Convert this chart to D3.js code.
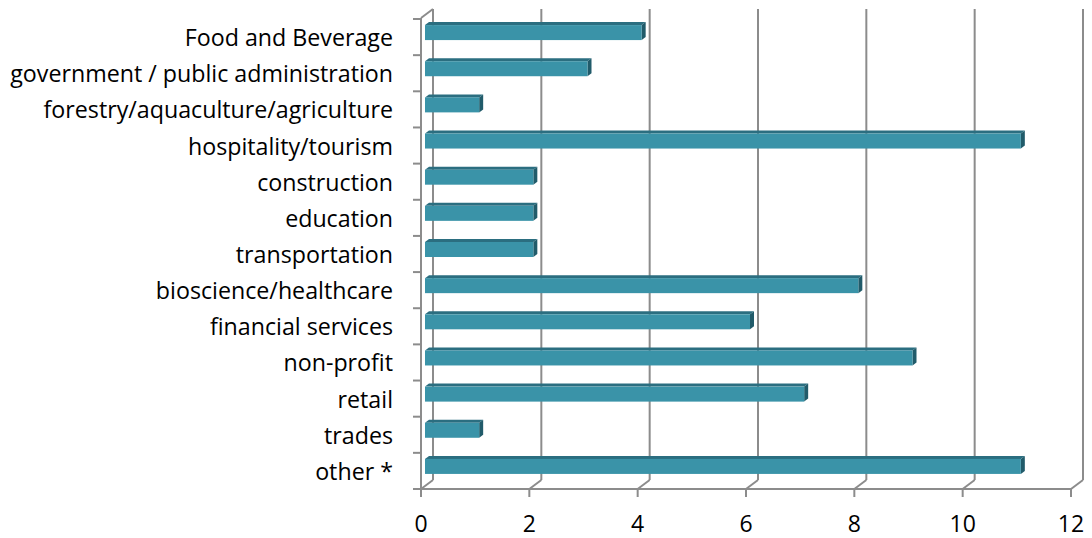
<!DOCTYPE html>
<html>
<head>
<meta charset="utf-8">
<script src="https://cdn.jsdelivr.net/npm/d3@7"></script>
<style>
  html, body { margin: 0; padding: 0; background: #fff; }
  svg { display: block; }
  text { font-family: "Open Sans", Lato, sans-serif; fill: #000; font-variant-ligatures: none; }
</style>
</head>
<body>
<svg id="chart" width="1092" height="538"></svg>
<script>
// Industries, listed top to bottom
const categories = [
  "Food and Beverage",
  "government / public administration",
  "forestry/aquaculture/agriculture",
  "hospitality/tourism",
  "construction",
  "education",
  "transportation",
  "bioscience/healthcare",
  "financial services",
  "non-profit",
  "retail",
  "trades",
  "other *"
];
const counts = [4, 3, 1, 11, 2, 2, 2, 8, 6, 9, 7, 1, 11];
const xTicks = [0, 2, 4, 6, 8, 10, 12];

const svg = d3.select("#chart");

// Plot frame (front plane) and 3D wall depth
const plotLeft = 421, plotRight = 1071, plotTop = 18, plotBottom = 489;
const depth = { dx: 12, dy: -9 };      // back wall offset
const barDepth = { dx: 4, dy: -3 };    // bar thickness in depth
const barShift = 4;                    // bars sit a little behind the front plane

const x = d3.scaleLinear().domain([0, 12]).range([plotLeft, plotRight]);
const y = d3.scaleBand().domain(categories).range([plotTop + 1, plotBottom]).paddingInner(0).paddingOuter(0);

const gridColor = "#8c8c8c";

// Back wall gridlines
const grid = svg.append("g");
grid.selectAll("line.back")
  .data(xTicks)
  .join("line")
  .attr("x1", d => x(d) + depth.dx).attr("x2", d => x(d) + depth.dx)
  .attr("y1", plotTop + depth.dy).attr("y2", plotBottom + depth.dy)
  .attr("stroke", gridColor).attr("stroke-width", 2);

// Floor: diagonals from the front axis to the back wall
grid.selectAll("line.floor")
  .data(xTicks)
  .join("line")
  .attr("x1", d => x(d)).attr("x2", d => x(d) + depth.dx)
  .attr("y1", plotBottom).attr("y2", plotBottom + depth.dy)
  .attr("stroke", gridColor).attr("stroke-width", 2);

// Side wall top edge
grid.append("line")
  .attr("x1", plotLeft).attr("y1", plotTop)
  .attr("x2", plotLeft + depth.dx).attr("y2", plotTop + depth.dy)
  .attr("stroke", gridColor).attr("stroke-width", 2);

// Front value axis line and ticks
grid.append("line")
  .attr("x1", plotLeft).attr("x2", plotRight)
  .attr("y1", plotBottom).attr("y2", plotBottom)
  .attr("stroke", gridColor).attr("stroke-width", 2);
grid.selectAll("line.xtick")
  .data(xTicks)
  .join("line")
  .attr("x1", d => x(d)).attr("x2", d => x(d))
  .attr("y1", plotBottom).attr("y2", plotBottom + 8)
  .attr("stroke", gridColor).attr("stroke-width", 2);

// Front category axis line and ticks
grid.append("line")
  .attr("x1", plotLeft).attr("x2", plotLeft)
  .attr("y1", plotTop).attr("y2", plotBottom)
  .attr("stroke", gridColor).attr("stroke-width", 2);
const catTicks = categories.map(c => y(c)).concat([plotBottom]);
grid.selectAll("line.ytick")
  .data(catTicks)
  .join("line")
  .attr("x1", plotLeft - 8).attr("x2", plotLeft)
  .attr("y1", d => d).attr("y2", d => d)
  .attr("stroke", gridColor).attr("stroke-width", 2);

// Bars drawn as 3D boxes: top face, right face, front face
const bars = svg.append("g").selectAll("g")
  .data(categories.map((c, i) => ({ c, v: counts[i] })))
  .join("g");

const bw = y.bandwidth();
const fy0 = d => y(d.c) + bw / 2 - 12;   // front face top
const fh = 15;                           // front face height
const fx0 = x(0) + barShift;
const fx1 = d => x(d.v) + barShift;

bars.append("path")
  .attr("fill", "#2b6e80")
  .attr("d", d => {
    const y0 = fy0(d), x1 = fx1(d);
    return `M${fx0},${y0}L${x1},${y0}L${x1 + barDepth.dx},${y0 + barDepth.dy}L${fx0 + barDepth.dx},${y0 + barDepth.dy}Z`;
  });
bars.append("path")
  .attr("fill", "#215b6a")
  .attr("d", d => {
    const y0 = fy0(d), x1 = fx1(d);
    return `M${x1},${y0}L${x1 + barDepth.dx},${y0 + barDepth.dy}L${x1 + barDepth.dx},${y0 + fh + barDepth.dy}L${x1},${y0 + fh}Z`;
  });
bars.append("rect")
  .attr("fill", "#3a93a8")
  .attr("x", fx0)
  .attr("y", d => fy0(d))
  .attr("width", d => fx1(d) - fx0)
  .attr("height", fh);

// Category labels
const catLabels = svg.append("g").selectAll("text")
  .data(categories)
  .join("text")
  .attr("x", 393)
  .attr("y", d => y(d) + bw / 2)
  .attr("text-anchor", "end")
  .attr("dominant-baseline", "central")
  .style("font-size", "20px")
  .text(d => d);

// Size the labels so the longest one spans the margin left of the axis
const widest = d3.max(catLabels.nodes(), n => n.getComputedTextLength());
catLabels.style("font-size", (20 * 383 / widest).toFixed(2) + "px");

// Value labels
svg.append("g").selectAll("text")
  .data(xTicks)
  .join("text")
  .attr("x", d => x(d))
  .attr("y", 523)
  .attr("text-anchor", "middle")
  .attr("dominant-baseline", "central")
  .style("font-size", "23px")
  .text(d => d);
</script>
</body>
</html>
